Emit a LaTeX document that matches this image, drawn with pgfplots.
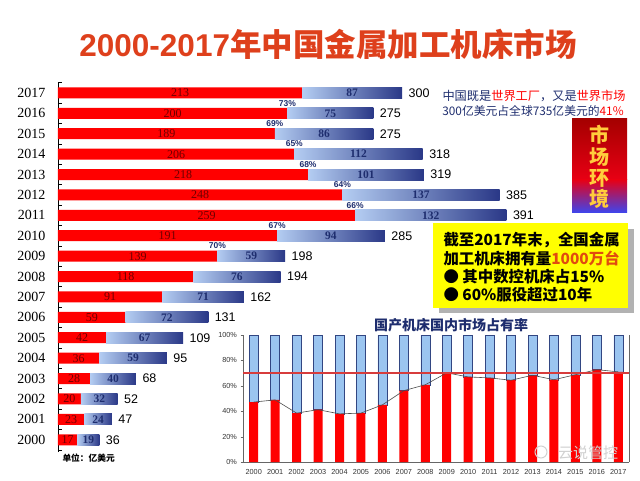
\documentclass[border=0pt]{standalone}
\usepackage{fontspec}
\usepackage{pgfplots}
\pgfplotsset{compat=1.18}
\usepackage{pgfplotstable}
\setmainfont{Liberation Sans}
\newfontfamily\serif{Liberation Serif}
\newfontfamily\cjk{Noto Sans CJK SC}

\definecolor{barred}{RGB}{255,0,0}
\definecolor{blueL}{RGB}{180,205,242}
\definecolor{blueD}{RGB}{42,56,135}
\definecolor{navy}{RGB}{30,45,110}
\definecolor{darkred}{RGB}{110,0,0}
\definecolor{titlecol}{RGB}{222,64,28}
\definecolor{shareblue}{RGB}{155,197,240}
\definecolor{sharenavy}{RGB}{50,70,130}
\definecolor{linered}{RGB}{215,60,60}
\definecolor{boxyellow}{RGB}{255,255,0}
\definecolor{mktyellow}{RGB}{255,205,60}
\definecolor{orangered}{RGB}{225,75,15}

\pgfplotstableread{
year r b t
2017 213 87 300
2016 200 75 275
2015 189 86 275
2014 206 112 318
2013 218 101 319
2012 248 137 385
2011 259 132 391
2010 191 94 285
2009 139 59 198
2008 118 76 194
2007 91 71 162
2006 59 72 131
2005 42 67 109
2004 36 59 95
2003 28 40 68
2002 20 32 52
2001 23 24 47
2000 17 19 36
}\market

\pgfplotstableread{
y x p
2016.5 200 73
2015.5 189 69
2014.5 206 65
2013.5 218 68
2012.5 248 64
2011.5 259 66
2010.5 191 67
2009.5 139 70
}\pcttab

\pgfplotstableread{
year s rest
2000 47.2 52.8
2001 48.9 51.1
2002 38.5 61.5
2003 41.2 58.8
2004 37.9 62.1
2005 38.5 61.5
2006 45.0 55.0
2007 56.2 43.8
2008 60.8 39.2
2009 70.2 29.8
2010 67.0 33.0
2011 66.2 33.8
2012 64.4 35.6
2013 68.3 31.7
2014 64.8 35.2
2015 68.7 31.3
2016 72.7 27.3
2017 71.0 29.0
}\share

\pgfplotsset{
  mainax/.style={at={(58pt,28pt)}, anchor=south west, scale only axis,
    width=458.8pt, height=370.3pt, xmin=0, xmax=400, ymin=1999.4, ymax=2017.55},
  shareax/.style={at={(243pt,18pt)}, anchor=south west, scale only axis,
    width=386pt, height=127pt, xmin=1999.5, xmax=2017.5, ymin=0, ymax=100},
}

\begin{document}
\begin{tikzpicture}[x=1pt,y=1pt]
\useasboundingbox (0,0) rectangle (640,480);

% Title
\node[text=titlecol, inner sep=0pt] at (328,436)
  {\fontsize{31.5}{31.5}\selectfont\bfseries 2000-2017\cjk 年中国金属加工机床市场};

% main bar chart (domestic part)
\begin{axis}[mainax, bar width=11pt,
  axis y line*=left, axis x line=none,
  y axis line style={black, line width=0.8pt},
  ytick={2000,...,2017}, minor ytick={1999.5,2000.5,...,2017.5},
  major tick length=0pt, minor tick length=4pt,
  minor tick style={black, line width=0.8pt},
  /pgf/number format/assume math mode=true,
  /pgf/number format/1000 sep={},
  yticklabel style={font=\serif\fontsize{14}{14}\selectfont, xshift=-9pt},
]
\addplot[xbar, bar width=11pt, fill=barred, draw=none] table[x=r, y=year]{\market};
\end{axis}

% imported part (shaded per bar) and labels
\begin{axis}[mainax, axis lines=none, clip=false]
\addplot[scatter, only marks, mark=*, mark size=0.2pt,
  visualization depends on={\thisrow{b} \as \bw},
  scatter/@pre marker code/.code={%
    \pgfmathsetmacro\bwpt{\bw*1.147}%
    \shade[draw=none, left color=blueL, right color=blueD] (0pt,-5.5pt) rectangle (\bwpt pt,5.5pt);
    \begin{scope}[opacity=0]},
  scatter/@post marker code/.code={\end{scope}}]
  table[x=r, y=year]{\market};
\addplot[draw=none, nodes near coords, point meta=explicit symbolic,
  every node near coord/.append style={anchor=center, text=darkred, font=\serif\fontsize{12}{12}\selectfont}]
  table[x expr=\thisrow{r}/2, y=year, meta=r]{\market};
\addplot[draw=none, nodes near coords, point meta=explicit symbolic,
  every node near coord/.append style={anchor=center, text=navy, font=\serif\bfseries\fontsize{11.5}{11.5}\selectfont}]
  table[x expr=\thisrow{r}+\thisrow{b}/2, y=year, meta=b]{\market};
\addplot[draw=none, nodes near coords, point meta=explicit symbolic,
  every node near coord/.append style={anchor=west, xshift=3pt, text=black, font=\fontsize{12.5}{12.5}\selectfont}]
  table[x=t, y=year, meta=t]{\market};
\addplot[draw=none, nodes near coords={\pgfplotspointmeta\%}, point meta=explicit symbolic,
  every node near coord/.append style={anchor=center, text=navy, inner sep=0pt, font=\bfseries\fontsize{8.5}{8.5}\selectfont}]
  table[x=x, y=y, meta=p]{\pcttab};
\end{axis}

% unit label
\node[anchor=west, font=\cjk\bfseries\fontsize{8.7}{8.7}\selectfont] at (59,22) {单位：亿美元};

% top right notes
\node[text=navy, font=\cjk\fontsize{12.2}{12.2}\selectfont] at (534,384)
  {中国既是\textcolor{red}{世界工厂}，又是\textcolor{red}{世界市场}};
\node[text=navy, font=\cjk\fontsize{11.8}{11.8}\selectfont] at (533,369)
  {300亿美元占全球735亿美元的\textcolor{red}{41\%}};

% market environment box
\shade[top color={rgb,255:red,165;green,0;blue,0}, bottom color={rgb,255:red,232;green,0;blue,20}] (572,300) rectangle (627,361);
\shade[top color={rgb,255:red,232;green,0;blue,20}, bottom color={rgb,255:red,60;green,70;blue,240}] (572,267) rectangle (627,300.5);
\foreach \ch/\yy in {市/345,场/323,环/302,境/281}
  \node[text=mktyellow, font=\cjk\bfseries\fontsize{20}{20}\selectfont] at (599.5,\yy) {\ch};

% yellow box
\fill[black!30] (439,167) rectangle (634,251);
\fill[boxyellow] (433,172) rectangle (628,257);
\begin{scope}[every node/.style={anchor=west, font=\cjk\bfseries\fontsize{15.4}{15.4}\selectfont}]
\node at (440,240) {截至2017年末，全国金属};
\node at (440,222) {加工机床拥有量\textcolor{orangered}{1000万台}};
\node at (440,203) {● 其中数控机床占15\%};
\node at (440,185) {● 60\%服役超过10年};
\end{scope}

% share chart
\node[text=navy, font=\cjk\bfseries\fontsize{14}{14}\selectfont] at (451,155) {国产机床国内市场占有率};
\begin{axis}[shareax, ybar stacked, bar width=9pt,
  axis lines*=left, axis line style={black!60},
  xtick={2000,...,2017}, ytick={0,20,...,100},
  tick align=outside, major tick length=2.5pt, tick style={black!60},
  xtick style={draw=none},
  /pgf/number format/assume math mode=true,
  /pgf/number format/1000 sep={},
  yticklabel={\pgfmathprintnumber{\tick}\%},
  ticklabel style={font=\fontsize{7.3}{7.3}\selectfont, text=black!80},
  xticklabel style={yshift=-1pt},
]
\addplot[fill=barred, draw=none] table[x=year, y=s]{\share};
\addplot[fill=shareblue, draw=sharenavy, line width=0.4pt] table[x=year, y=rest]{\share};
\end{axis}
\begin{axis}[shareax, axis lines=none]
\addplot[sharp plot, color=black!70, line width=0.6pt] table[x=year, y=s]{\share};
\addplot[color=linered, line width=1.3pt] coordinates {(1999.5,70) (2017.5,70)};
\end{axis}
\draw[black!60] (629,18) -- (629,145);

% watermark
\node[text=black!18, font=\cjk\fontsize{15}{15}\selectfont] at (588,27) {云说管控};
\draw[black!18, line width=1pt] (541,28) circle (6);
\end{tikzpicture}
\end{document}
